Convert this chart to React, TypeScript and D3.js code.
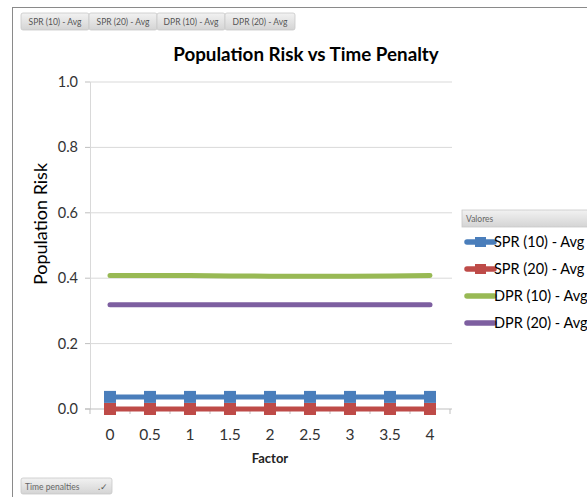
import React from "react";
import * as d3 from "d3";

const categories = ["0", "0.5", "1", "1.5", "2", "2.5", "3", "3.5", "4"];
const spr10 = [0.037, 0.037, 0.037, 0.037, 0.037, 0.037, 0.037, 0.037, 0.037];
const spr20 = [0.0, 0.0, 0.0, 0.0, 0.0, 0.0, 0.0, 0.0, 0.0];
const dpr10 = [0.408, 0.408, 0.408, 0.407, 0.406, 0.406, 0.406, 0.407, 0.408];
const dpr20 = [0.319, 0.319, 0.319, 0.319, 0.319, 0.319, 0.319, 0.319, 0.319];
const yTicks = [0, 0.2, 0.4, 0.6, 0.8, 1.0];
const seriesNames = ["SPR (10) - Avg", "SPR (20) - Avg", "DPR (10) - Avg", "DPR (20) - Avg"];
const seriesColors = ["#4a7ebb", "#be4b48", "#98b954", "#7d5fa0"];
const seriesMarkers = [true, true, false, false];
const seriesData = [spr10, spr20, dpr10, dpr20];

const FONT = "Lato, 'Open Sans', sans-serif";

export default function App() {
  const W = 587, H = 497;
  const x = d3.scaleBand<string>().domain(categories).range([90, 450]);
  const y = d3.scaleLinear().domain([0, 1]).range([409, 82]);
  const line = d3
    .line<number>()
    .x((_, i) => (x(categories[i]) as number) + x.bandwidth() / 2)
    .y((d) => y(d));

  const bounds = categories.map((c) => x(c) as number).concat([450]);

  return (
    <svg width={W} height={H} style={{ position: "absolute", left: 0, top: 0 }}>
      <defs>
        <linearGradient id="btn" x1="0" y1="0" x2="0" y2="1">
          <stop offset="0" stopColor="#f2f2f2" />
          <stop offset="1" stopColor="#d4d4d4" />
        </linearGradient>
      </defs>
      <rect x={0} y={0} width={W} height={H} fill="#fff" />
      {/* outer frame */}
      <line x1={12} y1={7.5} x2={W} y2={7.5} stroke="#8a8a8a" strokeWidth={1} />
      <line x1={12.5} y1={7} x2={12.5} y2={H} stroke="#8a8a8a" strokeWidth={1} />

      {/* filter buttons */}
      {seriesNames.map((n, i) => {
        const widths = [68, 68, 68, 70];
        const xs = [21, 89, 157, 225];
        return (
          <g key={n}>
            <rect x={xs[i]} y={13} width={widths[i]} height={17} rx={2} fill="url(#btn)" stroke="#c8c8c8" strokeWidth={0.8} />
            <text x={xs[i] + widths[i] / 2} y={25} fontSize={8.5} fill="#555" fontFamily={FONT} textAnchor="middle">
              {n}
            </text>
          </g>
        );
      })}

      {/* title */}
      <text x={306} y={61} textAnchor="middle" fontFamily={FONT} fontWeight="bold" fontSize={18.8} fill="#000">
        Population Risk vs Time Penalty
      </text>

      {/* gridlines & y ticks */}
      {yTicks.map((t) => (
        <g key={t}>
          {t > 0 && <line x1={90} x2={452} y1={y(t)} y2={y(t)} stroke="#d9d9d9" strokeWidth={1} />}
          <line x1={85} x2={90} y1={y(t)} y2={y(t)} stroke="#bfbfbf" strokeWidth={1} />
          <text x={78} y={y(t) + 5} textAnchor="end" fontFamily={FONT} fontSize={14.5} fill="#333">
            {t.toFixed(1)}
          </text>
        </g>
      ))}
      {/* y axis */}
      <line x1={90.5} x2={90.5} y1={y(1)} y2={y(0)} stroke="#d9d9d9" strokeWidth={1} />
      {/* x axis */}
      <line x1={85} x2={452} y1={y(0)} y2={y(0)} stroke="#bfbfbf" strokeWidth={1} />
      {bounds.map((b, i) => (
        <line key={i} x1={b} x2={b} y1={y(0)} y2={y(0) + 5} stroke="#bfbfbf" strokeWidth={1} />
      ))}
      {categories.map((c) => (
        <text key={c} x={(x(c) as number) + x.bandwidth() / 2} y={440} textAnchor="middle" fontFamily={FONT} fontSize={15.5} fill="#333">
          {c}
        </text>
      ))}

      {/* axis titles */}
      <text x={270} y={463} textAnchor="middle" fontFamily={FONT} fontWeight="bold" fontSize={13} fill="#222">
        Factor
      </text>
      <text transform={`translate(47,224) rotate(-90)`} textAnchor="middle" fontFamily={FONT} fontSize={18} fill="#000">
        Population Risk
      </text>

      {/* series */}
      {seriesData.map((d, si) => (
        <g key={si}>
          <path d={line(d) as string} fill="none" stroke={seriesColors[si]} strokeWidth={5} strokeLinecap="round" strokeLinejoin="round" />
          {seriesMarkers[si] &&
            d.map((v, i) => (
              <rect
                key={i}
                x={(x(categories[i]) as number) + x.bandwidth() / 2 - 6}
                y={y(v) - 6}
                width={12}
                height={12}
                fill={seriesColors[si]}
              />
            ))}
        </g>
      ))}

      {/* legend */}
      <rect x={462} y={210} width={130} height={17} fill="url(#btn)" stroke="#c8c8c8" strokeWidth={0.8} />
      <text x={466} y={222} fontFamily={FONT} fontSize={8.5} fill="#666">
        Valores
      </text>
      {seriesNames.map((n, i) => {
        const ly = 242 + i * 27;
        return (
          <g key={n}>
            <line x1={467} x2={494} y1={ly} y2={ly} stroke={seriesColors[i]} strokeWidth={5.5} strokeLinecap="round" />
            {seriesMarkers[i] && <rect x={475} y={ly - 5} width={11} height={10} fill={seriesColors[i]} />}
            <text x={494} y={ly + 5} fontFamily={FONT} fontSize={14.5} fill="#000">
              {n}
            </text>
          </g>
        );
      })}

      {/* bottom filter button */}
      <rect x={21} y={478} width={91} height={16} rx={2} fill="url(#btn)" stroke="#c8c8c8" strokeWidth={0.8} />
      <text x={25} y={490} fontFamily={FONT} fontSize={8.5} fill="#666">
        Time penalties
      </text>
      <text x={98} y={490} fontFamily={FONT} fontSize={9} fill="#555">
        .✓
      </text>
    </svg>
  );
}
